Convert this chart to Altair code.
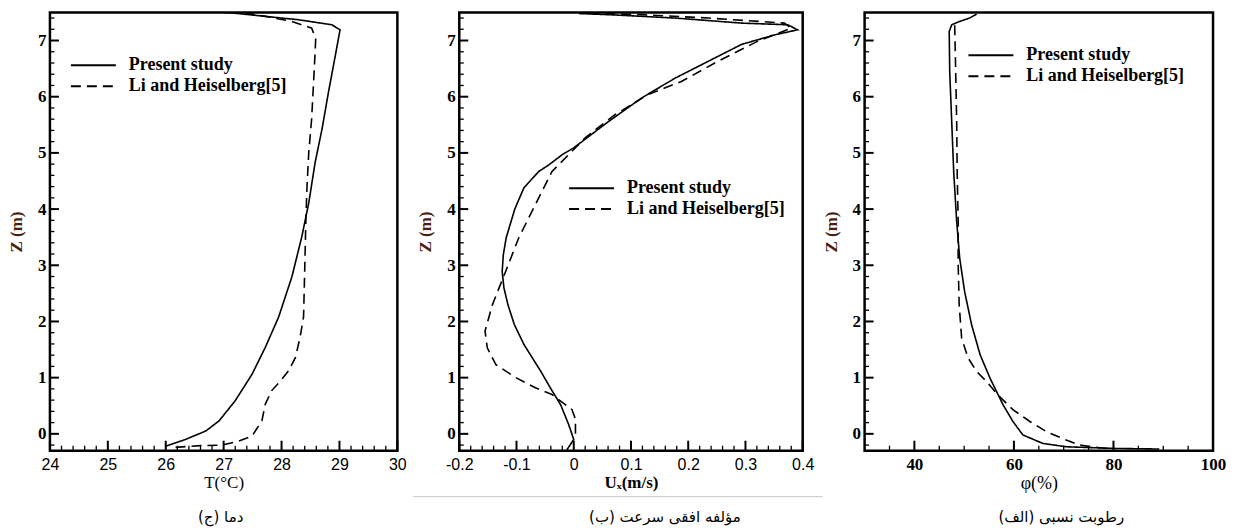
import altair as alt
import pandas as pd

SERIF = "Liberation Serif"
SANS = "Liberation Sans"
SERIES = ["Present study", "Li and Heiselberg[5]"]
DASH = [10, 6]
Y_DOMAIN = [-0.3, 7.5]
H = 439

# ---- Panel (ج): temperature ----
t_present_T = [26.0, 26.34, 26.69, 26.92, 27.2, 27.49, 27.72, 27.95, 28.18, 28.35, 28.47, 28.58,
               28.70, 28.81, 28.93, 29.01, 28.87, 28.29, 27.72, 27.15, 27.0]
t_present_z = [-0.22, -0.10, 0.05, 0.23, 0.59, 1.06, 1.54, 2.08, 2.80, 3.51, 4.11, 4.83,
               5.43, 6.08, 6.74, 7.19, 7.28, 7.37, 7.43, 7.49, 7.5]
t_li_T = [26.17, 26.6, 26.97, 27.26, 27.49, 27.66, 27.72, 27.83, 27.98, 28.12, 28.24, 28.32, 28.38,
          28.40, 28.42, 28.44, 28.47, 28.52, 28.55, 28.58, 28.59, 28.52, 28.18, 27.72, 27.38]
t_li_z = [-0.24, -0.21, -0.2, -0.13, -0.04, 0.23, 0.53, 0.77, 0.94, 1.12, 1.36, 1.72, 2.08,
          2.92, 3.81, 4.41, 5.01, 5.61, 6.20, 6.80, 7.04, 7.22, 7.34, 7.43, 7.49]

# ---- Panel (ب): horizontal velocity ----
u_present_U = [-0.013, 0.0, -0.009, -0.023, -0.041, -0.058, -0.087, -0.104, -0.115, -0.122,
               -0.125, -0.123, -0.118, -0.103, -0.087, -0.061, -0.043, -0.020, 0.0, 0.061, 0.119,
               0.177, 0.235, 0.293, 0.351, 0.391, 0.374, 0.293, 0.177, 0.061, 0.009]
u_present_z = [-0.3, -0.10, 0.17, 0.52, 0.82, 1.12, 1.59, 1.95, 2.30, 2.60,
               2.89, 3.19, 3.49, 4.00, 4.38, 4.67, 4.79, 4.97, 5.09, 5.56, 5.98,
               6.33, 6.63, 6.93, 7.10, 7.19, 7.28, 7.31, 7.40, 7.46, 7.48]
u_li_U = [0.003, 0.003, -0.003, -0.038, -0.067, -0.101, -0.136, -0.151, -0.155, -0.142, -0.119,
          -0.096, -0.067, -0.038, -0.003, 0.020, 0.072, 0.130, 0.188, 0.252, 0.322, 0.380, 0.368,
          0.235, 0.119, 0.014]
u_li_z = [0.0, 0.26, 0.43, 0.70, 0.82, 1.0, 1.23, 1.53, 1.83, 2.30, 2.89,
          3.49, 4.08, 4.67, 5.03, 5.27, 5.68, 6.04, 6.27, 6.63, 6.99, 7.22, 7.31,
          7.40, 7.46, 7.49]

# ---- Panel (الف): relative humidity ----
h_present_P = [89.2, 80.5, 70.5, 65.8, 61.8, 59.8, 57.8, 55.2, 53.2, 51.5, 50.1, 49.1, 48.5,
               47.9, 47.5, 47.1, 47.0, 47.5, 49.1, 51.1, 52.5]
h_present_z = [-0.27, -0.26, -0.23, -0.17, -0.02, 0.22, 0.52, 0.99, 1.41, 1.94, 2.53, 3.13, 3.78,
               4.67, 5.56, 6.45, 7.16, 7.28, 7.34, 7.40, 7.47]
h_li_P = [78.5, 73.2, 70.5, 66.5, 63.2, 59.8, 56.8, 54.5, 52.5, 50.8, 49.5, 49.0, 48.8, 48.8,
          48.6, 48.5, 48.3, 48.1]
h_li_z = [-0.26, -0.2, -0.11, 0.04, 0.22, 0.43, 0.69, 0.93, 1.11, 1.35, 1.70, 2.30, 3.01, 3.78,
          4.67, 5.56, 6.45, 7.28]

# tick values
t_major = [24, 25, 26, 27, 28, 29, 30]
t_minor = [round(24 + 0.2 * k, 1) for k in range(31) if k % 5 != 0]
u_major = [-0.2, -0.1, 0, 0.1, 0.2, 0.3, 0.4]
u_minor = [round(-0.2 + 0.02 * k, 2) for k in range(31) if k % 5 != 0]
h_major = [40, 60, 80, 100]
h_minor = [35, 45, 50, 55, 65, 70, 75, 85, 90, 95]
z_major = [0, 1, 2, 3, 4, 5, 6, 7]
z_minor = [round(-0.2 + 0.2 * k, 1) for k in range(39) if (k - 1) % 5 != 0]

titles_x = ["T(°C)", "Uₓ(m/s)", "φ(%)"]
captions = ["(ج) دما", "(ب) مؤلفه افقی سرعت", "(الف) رطوبت نسبی"]


def frame(v1, z1, v2, z2):
    rows = []
    for i, (v, z) in enumerate(zip(v1, z1)):
        rows.append({"v": v, "z": z, "s": SERIES[0], "i": i})
    for i, (v, z) in enumerate(zip(v2, z2)):
        rows.append({"v": v, "z": z, "s": SERIES[1], "i": i})
    return pd.DataFrame(rows)


ONE = pd.DataFrame({"d": [0]})


def panel(df, width, xdom, xmaj, xmin, xlab_font, xlab_size, xlab_weight, xtitle, xtitle_weight,
          xtitle_size, label_expr, leg_x, leg_y, cap_x, caption, extra=None):
    xs = alt.Scale(domain=xdom, nice=False, zero=False)
    ys = alt.Scale(domain=Y_DOMAIN, nice=False, zero=False)
    xaxis_kw = dict(values=xmaj, orient="bottom", ticks=False, domain=False, grid=False,
                    labelPadding=6, labelFont=xlab_font, labelFontSize=xlab_size,
                    labelFontWeight=xlab_weight, labelColor="black", labelFlush=False,
                    labelOverlap=False, title=xtitle, titleFont=SERIF, titleFontSize=xtitle_size,
                    titleFontWeight=xtitle_weight, titleColor="black", titlePadding=2)
    if label_expr:
        xaxis_kw["labelExpr"] = label_expr
    xaxis = alt.Axis(**xaxis_kw)
    yaxis = alt.Axis(values=z_major, orient="left", ticks=False, domain=False, grid=False,
                     labelPadding=4, labelFont=SERIF, labelFontSize=17, labelFontWeight="bold",
                     labelColor="black", labelFlush=False, labelOverlap=False,
                     title="Z (m)", titleFont=SERIF, titleFontSize=17, titleFontWeight="bold",
                     titleColor="#4b1e0f", titlePadding=12)
    lines = alt.Chart(df).mark_line(color="black", strokeWidth=1.6, clip=True).encode(
        x=alt.X("v:Q", scale=xs, axis=xaxis),
        y=alt.Y("z:Q", scale=ys, axis=yaxis),
        strokeDash=alt.StrokeDash("s:N", scale=alt.Scale(domain=SERIES, range=[[1, 0], DASH]),
                                  legend=None),
        order="i:Q",
    )
    layers = [lines]
    # inward tick marks, positioned through the shared scales
    for vals, length, w in [(xmaj, 10, 2), (xmin, 5, 1.3)]:
        layers.append(alt.Chart(pd.DataFrame({"v": vals})).mark_rule(
            color="black", strokeWidth=w).encode(
            x=alt.X("v:Q", scale=xs, axis=xaxis), y=alt.value(H), y2=alt.value(H - length)))
    for vals, length, w in [(z_major, 9, 2), (z_minor, 4.5, 1.3)]:
        layers.append(alt.Chart(pd.DataFrame({"z": vals})).mark_rule(
            color="black", strokeWidth=w).encode(
            y=alt.Y("z:Q", scale=ys, axis=yaxis), x=alt.value(0), x2=alt.value(length)))
    for k, name in enumerate(SERIES):
        yy = leg_y + 21 * k
        rule_kw = dict(color="black", strokeWidth=2)
        if k == 1:
            rule_kw["strokeDash"] = DASH
        layers.append(alt.Chart(ONE).mark_rule(**rule_kw).encode(
            x=alt.value(leg_x), x2=alt.value(leg_x + 45), y=alt.value(yy)))
        layers.append(alt.Chart(ONE).mark_text(
            text=name, align="left", baseline="middle", font=SERIF, fontSize=18,
            fontWeight="bold", color="black").encode(x=alt.value(leg_x + 58), y=alt.value(yy)))
    layers.append(alt.Chart(ONE).mark_text(
        text=caption, align="center", baseline="middle", font="DejaVu Sans", fontSize=15,
        color="black", dir="rtl").encode(x=alt.value(cap_x), y=alt.value(H + 66)))
    if extra is not None:
        layers.append(extra)
    return alt.layer(*layers).properties(width=width, height=H)


df_t = frame(t_present_T, t_present_z, t_li_T, t_li_z)
df_u = frame(u_present_U, u_present_z, u_li_U, u_li_z)
df_h = frame(h_present_P, h_present_z, h_li_P, h_li_z)

gray_line = alt.Chart(ONE).mark_rule(color="#c8c8c8", strokeWidth=1).encode(
    x=alt.value(-46), x2=alt.value(364), y=alt.value(H + 46))

p1 = panel(df_t, 348, [24, 30], t_major, t_minor, SANS, 16, "normal", titles_x[0], "normal", 17,
           None, 21, 53, 171, captions[0])
p2 = panel(df_u, 344, [-0.2, 0.4], u_major, u_minor, SANS, 16, "normal", titles_x[1], "bold", 17,
           "'' + datum.value", 110, 176, 206, captions[1], extra=gray_line)
p3 = panel(df_h, 349, [30, 100], h_major, h_minor, SERIF, 17, "bold", titles_x[2], "normal", 18,
           None, 104, 43, 197, captions[2])

chart = alt.hconcat(p1, p2, p3, spacing=62, bounds="flush").properties(
    padding={"left": -2, "top": 2, "right": 2, "bottom": 2}
).configure(background="white").configure_view(stroke="black", strokeWidth=2.5)

chart.save("out.html", embed_options={"renderer": "svg", "actions": False})
